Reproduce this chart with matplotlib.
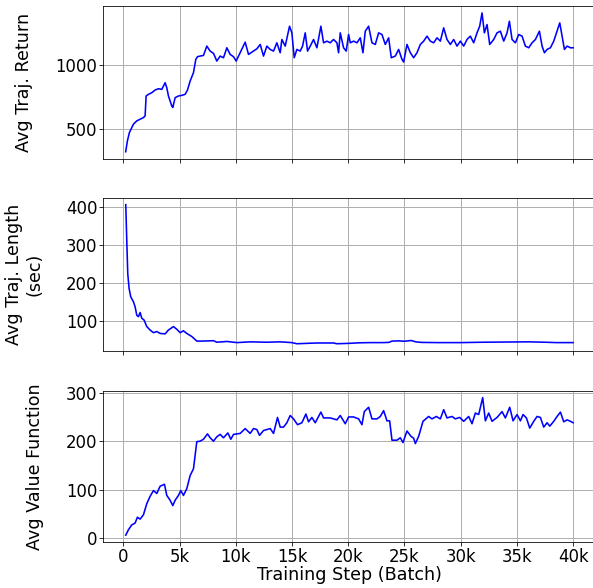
import matplotlib
matplotlib.use("Agg")
import matplotlib.pyplot as plt
from matplotlib.ticker import FuncFormatter

# ---- Panel 1: Avg Traj. Return ----
ret_steps = [200, 356, 534, 742, 890, 1038, 1187, 1484, 1780, 1929, 2018, 2225, 2522, 2819,
             3115, 3412, 3709, 3857, 4005, 4302, 4391, 4599, 4896, 5192, 5489, 5697, 5934,
             6231, 6438, 6587, 6824, 7121, 7418, 7714, 8011, 8308, 8604, 8901, 9198, 9494,
             9791, 10028, 10385, 10830, 11126, 11571, 11868, 12165, 12461, 12758, 13055,
             13352, 13648, 13945, 14093, 14390, 14776, 14983, 15191, 15428, 15725, 15933,
             16170, 16378, 16615, 16912, 17209, 17564, 17802, 18099, 18395, 18692, 18989,
             19137, 19286, 19582, 19820, 20027,
             20178, 20475, 20771, 21068, 21305, 21513, 21810, 22107, 22403, 22700, 22997,
             23293, 23590, 23827, 24183, 24480, 24777, 24925, 25222, 25519, 25815, 26112,
             26409, 26705, 27002, 27299, 27596, 27892, 28189, 28486, 28782, 29079, 29376,
             29672, 29969, 30266, 30562, 30859, 31156, 31452, 31690, 31898, 32105, 32342,
             32580, 32936, 33232, 33529, 33826, 34123, 34330, 34568, 34864, 35161, 35458,
             35754, 36051, 36348, 36645, 37001, 37238, 37446, 37683, 37980, 38277, 38573,
             38811, 39018, 39226, 39463, 39760, 40000]
ret_values = [318, 404, 469, 508, 534, 547, 560, 573, 586, 599, 755, 768, 781, 802,
              812, 807, 859, 820, 755, 677, 665, 742, 755, 760, 768, 802, 872,
              938, 1042, 1063, 1068, 1073, 1146, 1107, 1089, 1029, 1068, 1055, 1133, 1081,
              1063, 1029, 1094, 1177, 1081, 1107, 1125, 1159, 1068, 1146, 1120,
              1107, 1172, 1094, 1198, 1146, 1302, 1250, 1055, 1120, 1107, 1146,
              1250, 1107, 1146, 1198, 1133, 1302, 1172, 1185, 1172, 1198, 1172,
              1094, 1250, 1133, 1107, 1237,
              1172, 1185, 1172, 1211, 1094, 1263, 1302, 1172, 1159, 1250, 1237,
              1159, 1211, 1055, 1068, 1120, 1042, 1021, 1159, 1094, 1055, 1094,
              1159, 1185, 1224, 1185, 1172, 1211, 1185, 1289, 1198, 1159, 1198,
              1146, 1185, 1146, 1198, 1224, 1172, 1250, 1302, 1406, 1250, 1315,
              1159, 1198, 1250, 1263, 1185, 1250, 1341, 1198, 1172, 1237, 1224,
              1146, 1133, 1172, 1198, 1263, 1146, 1094, 1120, 1133, 1185, 1263,
              1328, 1224, 1120, 1146, 1133, 1133]

# ---- Panel 2: Avg Traj. Length (sec) ----
len_steps = [208, 297, 386, 504, 653, 890, 1038, 1187, 1335, 1484, 1632, 1840, 2077, 2373,
             2670, 2967, 3264, 3709, 4005, 4450, 4747, 5044, 5341, 5637, 6082, 6527, 7121,
             8011, 8308, 9198, 10088, 11274, 12758, 13945, 14983, 15428, 17209, 18692,
             18989, 20027, 21000, 22000, 23000, 23600, 23900, 24500, 25000, 25600, 26000,
             26500, 28000, 30000, 32000, 34000, 36000, 37500, 38500, 40000]
len_values = [406, 313, 225, 186, 164, 151, 138, 116, 112, 123, 108, 103, 86, 77,
              70, 73, 68, 67, 77, 86, 79, 70, 75, 68, 60, 48, 48,
              49, 45, 47, 44, 46, 45, 46, 44, 41, 43, 43,
              41, 42, 43.5, 44, 44, 44.5, 48, 48.5, 47.5, 49.5, 46,
              44.5, 44, 44, 45, 45.5, 46, 45, 44, 44]

# ---- Panel 3: Avg Value Function ----
val_steps = [208, 445, 742, 1038, 1246, 1484, 1780, 2077, 2373, 2670, 2967, 3264, 3649,
             3857, 4154, 4391, 4599, 4896, 5103, 5341, 5637, 5934, 6231, 6527, 6824, 7121,
             7477, 7714, 8011, 8308, 8604, 8901, 9287, 9554, 9791, 10385, 10830, 11274,
             11571, 11868, 12105, 12461, 13055, 13352, 13707, 13945, 14241, 14538, 14835,
             15131, 15487, 15873, 16229, 16467, 16764, 17060, 17564, 17802, 18395, 18989,
             19286, 19731, 20030, 20475, 20920, 21216, 21424, 21810, 22107, 22552, 22849,
             23145, 23442, 23679, 23887, 24332, 24628, 24866, 25222, 25578, 25815, 25964,
             26260, 26646, 27150, 27447, 27833, 28189, 28486, 28782, 29227, 29524, 29910,
             30266, 30711, 31007, 31304, 31601, 31957, 32194, 32491, 32788, 33232, 33677,
             33974, 34360, 34657, 35013, 35310, 35547, 35844, 36141, 36497, 36793, 37090,
             37386, 37683, 37921, 38277, 38573, 38870, 39167, 39463, 39760, 40000]
val_values = [6, 17, 27, 31, 43, 39, 48, 71, 86, 98, 92, 107, 111,
              88, 78, 67, 78, 88, 98, 88, 102, 129, 143, 199, 200, 204,
              215, 207, 200, 209, 214, 207, 217, 204, 214, 216, 226, 216,
              226, 224, 212, 222, 226, 216, 249, 229, 229, 238, 253,
              246, 234, 238, 256, 240, 249, 238, 260, 248, 248, 244,
              253, 236, 250, 250, 246, 234, 261, 270, 246, 246, 251,
              263, 242, 242, 202, 202, 207, 197, 221, 210, 206, 195,
              210, 241, 251, 246, 251, 246, 265, 248, 251, 246, 249,
              241, 251, 236, 258, 255, 290, 242, 258, 241, 249, 261,
              248, 270, 242, 255, 242, 255, 248, 227, 241, 251, 249,
              229, 238, 231, 241, 251, 260, 240, 244, 241, 238]

x_ticks = [0, 5000, 10000, 15000, 20000, 25000, 30000, 35000, 40000]
ret_yticks = [500, 1000]
len_yticks = [100, 200, 300, 400]
val_yticks = [0, 100, 200, 300]

plt.rcParams['font.family'] = ['DejaVu Sans']
FS_TICK = 16.5
FS_LABEL = 17.5

W, H = 593, 588
fig = plt.figure(figsize=(W / 72, H / 72), dpi=72)

left = 103.3 / W
width = (595.5 - 103.3) / W

def pos(top_px, bot_px):
    return [left, 1 - bot_px / H, width, (bot_px - top_px) / H]

ax1 = fig.add_axes(pos(6.0, 158.7))
ax2 = fig.add_axes(pos(197.7, 350.7), sharex=ax1)
ax3 = fig.add_axes(pos(390.7, 542.0), sharex=ax1)

line_kw = dict(color='#0000ff', linewidth=1.6)
ax1.plot(ret_steps, ret_values, **line_kw)
ax2.plot(len_steps, len_values, **line_kw)
ax3.plot(val_steps, val_values, **line_kw)

ax1.set_ylabel('Avg Traj. Return', fontsize=FS_LABEL, labelpad=22)
ax2.set_ylabel('Avg Traj. Length\n(sec)', fontsize=FS_LABEL, labelpad=22)
ax3.set_ylabel('Avg Value Function', fontsize=FS_LABEL, labelpad=22)
ax3.set_xlabel('Training Step (Batch)', fontsize=FS_LABEL, labelpad=0)

ax1.set_yticks(ret_yticks)
ax2.set_yticks(len_yticks)
ax3.set_yticks(val_yticks)

for ax in (ax1, ax2, ax3):
    ax.grid(True, color='#b0b0b0', linewidth=1.0)
    ax.set_axisbelow(True)
    ax.tick_params(labelsize=FS_TICK, length=4, pad=2)

ax3.set_xticks(x_ticks)
ax3.xaxis.set_major_formatter(FuncFormatter(lambda v, p: '0' if v == 0 else f'{int(v/1000)}k'))
ax1.tick_params(labelbottom=False)
ax2.tick_params(labelbottom=False)

fig.align_ylabels([ax1, ax2, ax3])

fig.savefig('out.png', dpi=72)
